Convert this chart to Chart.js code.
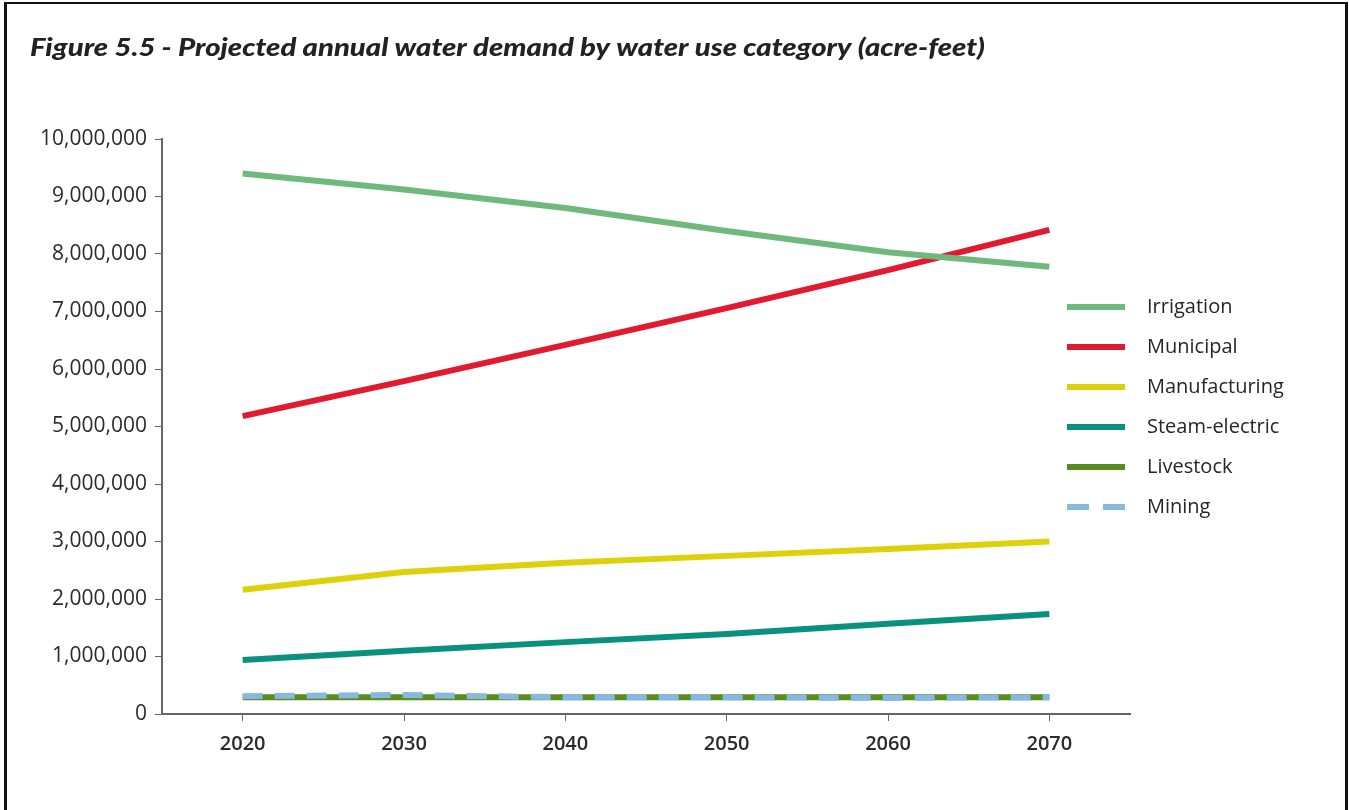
<!DOCTYPE html>
<html>
<head>
<meta charset="utf-8">
<script src="https://cdn.jsdelivr.net/npm/chart.js@4/dist/chart.umd.min.js"></script>
<style>
  html, body { margin: 0; padding: 0; background: #ffffff; }
  #wrap { position: relative; width: 1349px; height: 810px; }
  canvas { display: block; }
</style>
</head>
<body>
<div id="wrap"><canvas id="c" width="1349" height="810"></canvas></div>
<script>
// ---- Data ----
const years = ['2020', '2030', '2040', '2050', '2060', '2070'];
const irrigation     = [9400000, 9120000, 8800000, 8400000, 8030000, 7780000];
const municipal      = [5180000, 5790000, 6420000, 7060000, 7720000, 8420000];
const manufacturing  = [2160000, 2470000, 2630000, 2750000, 2870000, 3000000];
const steamElectric  = [940000, 1100000, 1250000, 1390000, 1570000, 1740000];
const livestock      = [290000, 290000, 290000, 290000, 290000, 290000];
const mining         = [310000, 330000, 290000, 290000, 280000, 290000];
const seriesNames = ['Irrigation', 'Municipal', 'Manufacturing', 'Steam-electric', 'Livestock', 'Mining'];
const yTicks = [0, 1000000, 2000000, 3000000, 4000000, 5000000, 6000000, 7000000, 8000000, 9000000, 10000000];
const titleText = 'Figure 5.5 - Projected annual water demand by water use category (acre-feet)';

const colors = ['#6fb97c', '#e3192f', '#ddd20a', '#08917c', '#5b8a1f', '#86b8e0'];
const seriesData = [irrigation, municipal, manufacturing, steamElectric, livestock, mining];

const datasets = seriesNames.map((name, i) => ({
  label: name,
  data: seriesData[i],
  borderColor: colors[i],
  backgroundColor: colors[i],
  borderWidth: 6,
  pointRadius: 0,
  tension: 0,
  fill: false,
  borderCapStyle: 'butt',
  borderDash: name === 'Mining' ? [20, 12] : [],
  order: name === 'Livestock' ? 1 : 0
}));

const FONT = "'Open Sans', 'DejaVu Sans', sans-serif";
const TFONT = "'Lato', 'DejaVu Sans', sans-serif";

const framePlugin = {
  id: 'frame',
  beforeDraw(chart) {
    const ctx = chart.ctx;
    ctx.save();
    ctx.fillStyle = '#ffffff';
    ctx.fillRect(0, 0, chart.width, chart.height);
    ctx.fillStyle = '#111111';
    ctx.fillRect(4, 2, 3, chart.height - 2);      // left
    ctx.fillRect(4, 2, chart.width - 6, 2);       // top
    ctx.fillRect(chart.width - 4, 2, 3, chart.height - 2); // right
    ctx.restore();
  }
};

const titlePlugin = {
  id: 'customTitle',
  afterDraw(chart) {
    const ctx = chart.ctx;
    ctx.save();
    ctx.font = `italic 900 24px ${TFONT}`;
    const target = 955;
    const w = ctx.measureText(titleText).width;
    const sx = target / w;
    ctx.fillStyle = '#222222';
    ctx.textBaseline = 'middle';
    ctx.translate(30, 48);
    ctx.scale(sx, 1);
    ctx.fillText(titleText, 0, 0);
    ctx.restore();
  }
};

const legendPlugin = {
  id: 'customLegend',
  afterDraw(chart) {
    const ctx = chart.ctx;
    ctx.save();
    const x0 = 1067, x1 = 1125, tx = 1147;
    let y = 307;
    chart.data.datasets.forEach(ds => {
      ctx.beginPath();
      ctx.strokeStyle = ds.borderColor;
      ctx.lineWidth = 6;
      ctx.lineCap = 'butt';
      ctx.setLineDash(ds.borderDash && ds.borderDash.length ? [22, 14] : []);
      ctx.moveTo(x0, y);
      ctx.lineTo(x1, y);
      ctx.stroke();
      ctx.setLineDash([]);
      ctx.fillStyle = '#262626';
      ctx.font = `500 20px ${FONT}`;
      ctx.textBaseline = 'middle';
      ctx.fillText(ds.label, tx, y);
      y += 40;
    });
    ctx.restore();
  }
};

new Chart(document.getElementById('c'), {
  type: 'line',
  data: { labels: years, datasets },
  options: {
    responsive: false,
    animation: false,
    layout: { padding: { left: 0, right: 219, top: 139, bottom: 36 } },
    plugins: {
      legend: { display: false },
      title: { display: false },
      tooltip: { enabled: false }
    },
    scales: {
      x: {
        type: 'category',
        offset: true,
        grid: { display: true, drawOnChartArea: false, drawTicks: true, tickLength: 7, color: '#666666', offset: false },
        border: { display: true, color: '#666666', width: 2 },
        ticks: { color: '#2b2b2b', font: { family: FONT, size: 20, weight: '600' }, padding: 11 },
        afterFit(scale) { scale.height = 60; }
      },
      y: {
        min: 0,
        max: 10000000,
        afterBuildTicks(scale) { scale.ticks = yTicks.map(v => ({ value: v })); },
        grid: { display: true, drawOnChartArea: false, drawTicks: true, tickLength: 7, color: '#666666' },
        border: { display: true, color: '#666666', width: 2 },
        ticks: {
          color: '#2b2b2b',
          font: { family: FONT, size: 21, weight: '500' },
          padding: 8,
          callback: v => Number(v).toLocaleString('en-US')
        },
        afterFit(scale) { scale.width = 162; }
      }
    }
  },
  plugins: [framePlugin, titlePlugin, legendPlugin]
});
</script>
</body>
</html>
